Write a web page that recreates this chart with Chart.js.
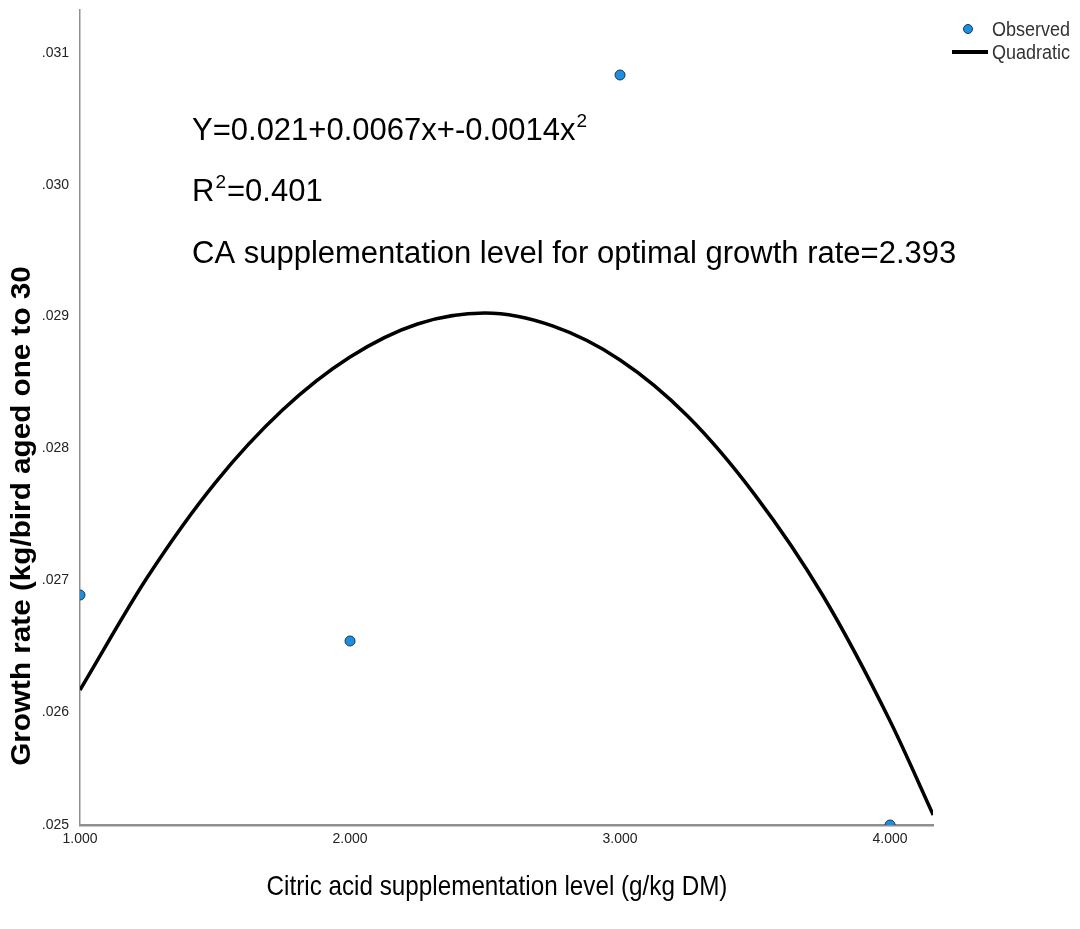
<!DOCTYPE html>
<html><head><meta charset="utf-8">
<script src="https://cdn.jsdelivr.net/npm/chart.js@4.4.0/dist/chart.umd.min.js"></script>
<style>html,body{margin:0;padding:0;background:#fff;}#wrap{position:relative;width:1080px;height:929px;}</style>
</head><body><div id="wrap"><canvas id="c" width="1080" height="929"></canvas></div>
<script>
// ---- data ----
const levels = [1, 2, 3, 4];
const observed = [0.026888, 0.026539, 0.030833, 0.025143];
const curveX = [1.0, 1.25, 1.5, 1.75, 2.0, 2.25, 2.5, 2.75, 3.0, 3.25, 3.5, 3.75, 4.0, 4.16];
const curveY = [0.026167, 0.027024, 0.027737, 0.028291, 0.028693, 0.028944, 0.029027, 0.028929, 0.028671, 0.028246, 0.027646, 0.026888, 0.025932, 0.025219];
const yTicks = [0.025143, 0.026, 0.027, 0.028, 0.029, 0.030, 0.031];
const yTickLabels = ['.025', '.026', '.027', '.028', '.029', '.030', '.031'];
const yMax = 0.031326;
const xTicks = [1, 2, 3, 4];
const xTickLabels = ['1.000', '2.000', '3.000', '4.000'];
const xMax = 4.159;
const seriesNames = ['Observed', 'Quadratic'];
const xTitle = 'Citric acid supplementation level (g/kg DM)';
const yTitle = 'Growth rate (kg/bird aged one to 30';
const eqLine = 'Y=0.021+0.0067x+-0.0014x';
const r2Line = '=0.401';
const optLine = 'CA supplementation level for optimal growth rate=2.393';

const ARIAL = "'Liberation Sans',Arial,sans-serif";

function narrowText(ctx, text, x, y, sx, align) {
  ctx.save();
  ctx.translate(x, y);
  ctx.scale(sx, 1);
  ctx.textAlign = align;
  ctx.fillText(text, 0, 0);
  ctx.restore();
}

const textPlugin = {
  id: 'textPlugin',
  afterDraw(chart) {
    const ctx = chart.ctx;
    ctx.save();
    ctx.fillStyle = '#000';
    ctx.textAlign = 'left';
    ctx.textBaseline = 'alphabetic';
    // equation
    ctx.font = '31px ' + ARIAL;
    ctx.fillText(eqLine, 192, 140);
    let w = ctx.measureText(eqLine).width;
    ctx.font = '19px ' + ARIAL;
    ctx.fillText('2', 192 + w + 1, 127);
    // R2
    ctx.font = '31px ' + ARIAL;
    ctx.fillText('R', 192, 201);
    w = ctx.measureText('R').width;
    ctx.font = '19px ' + ARIAL;
    ctx.fillText('2', 192 + w + 1, 188);
    const w2 = ctx.measureText('2').width;
    ctx.font = '31px ' + ARIAL;
    ctx.fillText(r2Line, 192 + w + w2 + 2, 201);
    // optimal
    ctx.fillText(optLine, 192, 263);

    // axis titles
    ctx.font = 'bold 28px ' + ARIAL;
    ctx.save();
    ctx.translate(30, 516);
    ctx.rotate(-Math.PI / 2);
    ctx.scale(1.06, 1);
    ctx.textAlign = 'center';
    ctx.textBaseline = 'alphabetic';
    ctx.fillText(yTitle, 0, 0);
    ctx.restore();
    ctx.font = '28px ' + ARIAL;
    ctx.textBaseline = 'middle';
    narrowText(ctx, xTitle, 497, 887, 0.866, 'center');

    // legend
    const ds = chart.data.datasets;
    ctx.font = '20px ' + ARIAL;
    ctx.textBaseline = 'middle';
    ctx.beginPath();
    ctx.arc(968, 29, 4.5, 0, Math.PI * 2);
    ctx.fillStyle = ds[0].backgroundColor;
    ctx.fill();
    ctx.lineWidth = 1;
    ctx.strokeStyle = ds[0].borderColor;
    ctx.stroke();
    ctx.fillStyle = '#333';
    narrowText(ctx, ds[0].label, 992, 30, 0.9, 'left');
    ctx.beginPath();
    ctx.moveTo(952, 52);
    ctx.lineTo(988, 52);
    ctx.lineWidth = 4;
    ctx.strokeStyle = ds[1].borderColor;
    ctx.stroke();
    narrowText(ctx, ds[1].label, 992, 53, 0.9, 'left');
    ctx.restore();
  }
};

new Chart(document.getElementById('c'), {
  type: 'scatter',
  data: {
    datasets: [
      {
        label: seriesNames[0],
        data: levels.map((x, i) => ({x: x, y: observed[i]})),
        backgroundColor: '#1c8fe3',
        borderColor: '#1d3550',
        borderWidth: 1,
        pointRadius: 5,
        pointHoverRadius: 5,
        clip: 0,
        order: 0
      },
      {
        label: seriesNames[1],
        type: 'line',
        data: curveX.map((x, i) => ({x: x, y: curveY[i]})),
        borderColor: '#000',
        backgroundColor: '#000',
        borderWidth: 3.5,
        pointRadius: 0,
        cubicInterpolationMode: 'monotone',
        fill: false,
        clip: 0,
        order: 1
      }
    ]
  },
  options: {
    responsive: false,
    animation: false,
    devicePixelRatio: 1,
    layout: {padding: {top: 10, right: 147, left: 0, bottom: 0}},
    plugins: {legend: {display: false}, tooltip: {enabled: false}},
    scales: {
      x: {
        type: 'linear',
        min: xTicks[0],
        max: xMax,
        afterBuildTicks: s => { s.ticks = xTicks.map(v => ({value: v})); },
        afterFit: s => { s.height = 104; s.paddingLeft = 0; s.paddingRight = 0; },
        grid: {display: false, drawTicks: false},
        border: {display: true, color: '#8f8f8f', width: 2.5},
        ticks: {
          padding: 6,
          color: '#222',
          font: {family: ARIAL, size: 14},
          maxRotation: 0,
          autoSkip: false,
          callback: (v) => { const i = xTicks.indexOf(v); return i >= 0 ? xTickLabels[i] : ''; }
        }
      },
      y: {
        type: 'linear',
        min: yTicks[0],
        max: yMax,
        afterBuildTicks: s => { s.ticks = yTicks.map(v => ({value: v})); },
        afterFit: s => { s.width = 80; s.paddingTop = 0; s.paddingBottom = 0; },
        grid: {display: false, drawTicks: false},
        border: {display: true, color: '#8f8f8f', width: 1.5},
        ticks: {
          padding: 11,
          color: '#222',
          font: {family: ARIAL, size: 14},
          autoSkip: false,
          callback: (v) => { const i = yTicks.indexOf(v); return i >= 0 ? yTickLabels[i] : ''; }
        }
      }
    }
  },
  plugins: [textPlugin]
});
</script></body></html>
